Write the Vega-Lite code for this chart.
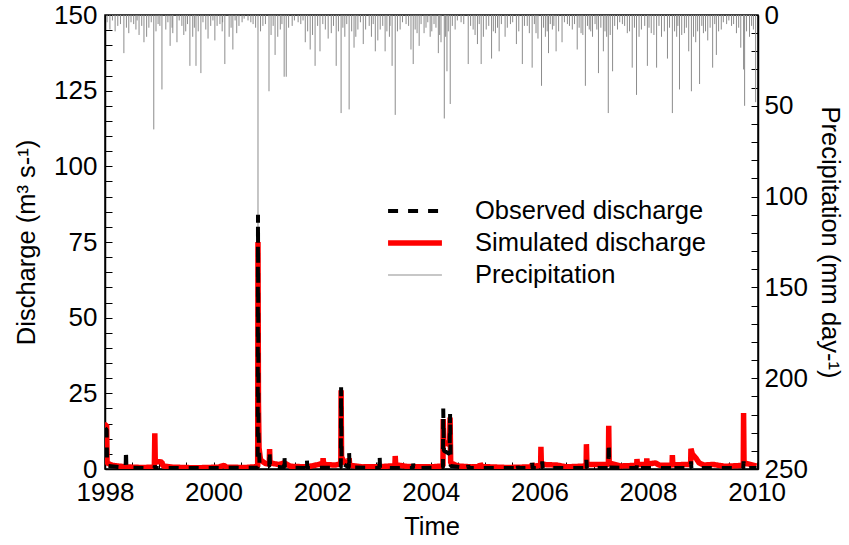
{
  "$schema": "https://vega.github.io/schema/vega-lite/v6.json",
  "width": 653,
  "height": 454,
  "autosize": {"type": "none"},
  "padding": {"left": 105, "top": 15, "right": 91, "bottom": 76},
  "background": "white",
  "config": {
    "view": {"stroke": "black", "strokeWidth": 1.5},
    "font": "Liberation Sans",
    "axis": {
      "labelFont": "Liberation Sans",
      "titleFont": "Liberation Sans",
      "labelFontSize": 26,
      "titleFontSize": 25.5,
      "titleFontWeight": "normal",
      "labelColor": "black",
      "titleColor": "black",
      "domainColor": "black",
      "domainWidth": 1.5,
      "tickColor": "black",
      "tickWidth": 1,
      "grid": false,
      "labelOverlap": false,
      "labelFlush": false
    },
    "legend": {
      "orient": "none",
      "legendX": 280,
      "legendY": 184,
      "title": null,
      "symbolType": "stroke",
      "symbolSize": 2900,
      "clipHeight": 24,
      "rowPadding": 6,
      "labelOffset": 30,
      "labelFont": "Liberation Sans",
      "labelFontSize": 25.5,
      "labelColor": "black",
      "padding": 0,
      "labelLimit": 400
    }
  },
  "datasets": {
    "precip": [
      {"date": "1998-01-15", "series": "Precipitation", "p": 4},
      {"date": "1998-02-03", "series": "Precipitation", "p": 8},
      {"date": "1998-02-20", "series": "Precipitation", "p": 3},
      {"date": "1998-03-10", "series": "Precipitation", "p": 9},
      {"date": "1998-03-28", "series": "Precipitation", "p": 6},
      {"date": "1998-04-15", "series": "Precipitation", "p": 5},
      {"date": "1998-05-08", "series": "Precipitation", "p": 21},
      {"date": "1998-05-25", "series": "Precipitation", "p": 7},
      {"date": "1998-06-10", "series": "Precipitation", "p": 10},
      {"date": "1998-06-25", "series": "Precipitation", "p": 4},
      {"date": "1998-07-13", "series": "Precipitation", "p": 5},
      {"date": "1998-07-28", "series": "Precipitation", "p": 8},
      {"date": "1998-08-05", "series": "Precipitation", "p": 3},
      {"date": "1998-08-18", "series": "Precipitation", "p": 11},
      {"date": "1998-09-05", "series": "Precipitation", "p": 6},
      {"date": "1998-09-20", "series": "Precipitation", "p": 15},
      {"date": "1998-10-08", "series": "Precipitation", "p": 12},
      {"date": "1998-10-23", "series": "Precipitation", "p": 7},
      {"date": "1998-11-08", "series": "Precipitation", "p": 4},
      {"date": "1998-11-25", "series": "Precipitation", "p": 63},
      {"date": "1998-12-10", "series": "Precipitation", "p": 9},
      {"date": "1998-12-24", "series": "Precipitation", "p": 5},
      {"date": "1999-01-05", "series": "Precipitation", "p": 6},
      {"date": "1999-01-19", "series": "Precipitation", "p": 41},
      {"date": "1999-02-14", "series": "Precipitation", "p": 8},
      {"date": "1999-02-28", "series": "Precipitation", "p": 4},
      {"date": "1999-03-15", "series": "Precipitation", "p": 17},
      {"date": "1999-03-28", "series": "Precipitation", "p": 7},
      {"date": "1999-04-02", "series": "Precipitation", "p": 10},
      {"date": "1999-04-30", "series": "Precipitation", "p": 15},
      {"date": "1999-05-15", "series": "Precipitation", "p": 3},
      {"date": "1999-06-02", "series": "Precipitation", "p": 6},
      {"date": "1999-06-15", "series": "Precipitation", "p": 11},
      {"date": "1999-06-28", "series": "Precipitation", "p": 9},
      {"date": "1999-07-10", "series": "Precipitation", "p": 5},
      {"date": "1999-07-26", "series": "Precipitation", "p": 28},
      {"date": "1999-08-14", "series": "Precipitation", "p": 12},
      {"date": "1999-08-25", "series": "Precipitation", "p": 7},
      {"date": "1999-09-05", "series": "Precipitation", "p": 28},
      {"date": "1999-09-20", "series": "Precipitation", "p": 9},
      {"date": "1999-10-08", "series": "Precipitation", "p": 32},
      {"date": "1999-10-22", "series": "Precipitation", "p": 4},
      {"date": "1999-11-10", "series": "Precipitation", "p": 8},
      {"date": "1999-11-25", "series": "Precipitation", "p": 13},
      {"date": "1999-12-13", "series": "Precipitation", "p": 6},
      {"date": "1999-12-28", "series": "Precipitation", "p": 3},
      {"date": "2000-01-10", "series": "Precipitation", "p": 14},
      {"date": "2000-01-25", "series": "Precipitation", "p": 6},
      {"date": "2000-02-13", "series": "Precipitation", "p": 5},
      {"date": "2000-02-28", "series": "Precipitation", "p": 9},
      {"date": "2000-03-02", "series": "Precipitation", "p": 4},
      {"date": "2000-03-17", "series": "Precipitation", "p": 27},
      {"date": "2000-04-15", "series": "Precipitation", "p": 12},
      {"date": "2000-04-28", "series": "Precipitation", "p": 7},
      {"date": "2000-05-10", "series": "Precipitation", "p": 19},
      {"date": "2000-05-25", "series": "Precipitation", "p": 3},
      {"date": "2000-06-05", "series": "Precipitation", "p": 10},
      {"date": "2000-06-20", "series": "Precipitation", "p": 6},
      {"date": "2000-07-11", "series": "Precipitation", "p": 4},
      {"date": "2000-07-25", "series": "Precipitation", "p": 2},
      {"date": "2000-08-20", "series": "Precipitation", "p": 3},
      {"date": "2000-09-08", "series": "Precipitation", "p": 4},
      {"date": "2000-09-23", "series": "Precipitation", "p": 5},
      {"date": "2000-10-10", "series": "Precipitation", "p": 7},
      {"date": "2000-10-26", "series": "Precipitation", "p": 118},
      {"date": "2000-11-12", "series": "Precipitation", "p": 9},
      {"date": "2000-11-28", "series": "Precipitation", "p": 6},
      {"date": "2000-12-15", "series": "Precipitation", "p": 5},
      {"date": "2001-01-08", "series": "Precipitation", "p": 42},
      {"date": "2001-01-22", "series": "Precipitation", "p": 11},
      {"date": "2001-02-05", "series": "Precipitation", "p": 6},
      {"date": "2001-02-18", "series": "Precipitation", "p": 22},
      {"date": "2001-03-08", "series": "Precipitation", "p": 12},
      {"date": "2001-03-25", "series": "Precipitation", "p": 8},
      {"date": "2001-04-05", "series": "Precipitation", "p": 5},
      {"date": "2001-04-20", "series": "Precipitation", "p": 34},
      {"date": "2001-05-04", "series": "Precipitation", "p": 34},
      {"date": "2001-05-20", "series": "Precipitation", "p": 7},
      {"date": "2001-06-13", "series": "Precipitation", "p": 6},
      {"date": "2001-06-28", "series": "Precipitation", "p": 3},
      {"date": "2001-07-23", "series": "Precipitation", "p": 4},
      {"date": "2001-08-10", "series": "Precipitation", "p": 5},
      {"date": "2001-08-25", "series": "Precipitation", "p": 3},
      {"date": "2001-09-09", "series": "Precipitation", "p": 15},
      {"date": "2001-09-25", "series": "Precipitation", "p": 9},
      {"date": "2001-10-12", "series": "Precipitation", "p": 19},
      {"date": "2001-10-28", "series": "Precipitation", "p": 11},
      {"date": "2001-11-14", "series": "Precipitation", "p": 28},
      {"date": "2001-12-01", "series": "Precipitation", "p": 6},
      {"date": "2001-12-17", "series": "Precipitation", "p": 20},
      {"date": "2002-01-05", "series": "Precipitation", "p": 5},
      {"date": "2002-01-22", "series": "Precipitation", "p": 8},
      {"date": "2002-02-10", "series": "Precipitation", "p": 13},
      {"date": "2002-03-03", "series": "Precipitation", "p": 10},
      {"date": "2002-03-18", "series": "Precipitation", "p": 6},
      {"date": "2002-04-05", "series": "Precipitation", "p": 28},
      {"date": "2002-04-20", "series": "Precipitation", "p": 9},
      {"date": "2002-05-08", "series": "Precipitation", "p": 54},
      {"date": "2002-05-20", "series": "Precipitation", "p": 7},
      {"date": "2002-06-02", "series": "Precipitation", "p": 12},
      {"date": "2002-06-15", "series": "Precipitation", "p": 5},
      {"date": "2002-07-01", "series": "Precipitation", "p": 52},
      {"date": "2002-07-18", "series": "Precipitation", "p": 9},
      {"date": "2002-08-03", "series": "Precipitation", "p": 18},
      {"date": "2002-08-15", "series": "Precipitation", "p": 12},
      {"date": "2002-08-29", "series": "Precipitation", "p": 8},
      {"date": "2002-09-15", "series": "Precipitation", "p": 4},
      {"date": "2002-10-04", "series": "Precipitation", "p": 16},
      {"date": "2002-10-20", "series": "Precipitation", "p": 8},
      {"date": "2002-11-13", "series": "Precipitation", "p": 6},
      {"date": "2002-11-28", "series": "Precipitation", "p": 12},
      {"date": "2002-12-10", "series": "Precipitation", "p": 5},
      {"date": "2002-12-24", "series": "Precipitation", "p": 20},
      {"date": "2003-01-10", "series": "Precipitation", "p": 14},
      {"date": "2003-01-26", "series": "Precipitation", "p": 8},
      {"date": "2003-02-12", "series": "Precipitation", "p": 6},
      {"date": "2003-02-28", "series": "Precipitation", "p": 20},
      {"date": "2003-03-12", "series": "Precipitation", "p": 9},
      {"date": "2003-03-29", "series": "Precipitation", "p": 12},
      {"date": "2003-04-02", "series": "Precipitation", "p": 6},
      {"date": "2003-04-16", "series": "Precipitation", "p": 28},
      {"date": "2003-05-07", "series": "Precipitation", "p": 55},
      {"date": "2003-05-22", "series": "Precipitation", "p": 9},
      {"date": "2003-06-09", "series": "Precipitation", "p": 8},
      {"date": "2003-06-25", "series": "Precipitation", "p": 4},
      {"date": "2003-07-19", "series": "Precipitation", "p": 5},
      {"date": "2003-08-05", "series": "Precipitation", "p": 6},
      {"date": "2003-08-21", "series": "Precipitation", "p": 19},
      {"date": "2003-09-05", "series": "Precipitation", "p": 27},
      {"date": "2003-09-18", "series": "Precipitation", "p": 8},
      {"date": "2003-10-01", "series": "Precipitation", "p": 10},
      {"date": "2003-10-15", "series": "Precipitation", "p": 17},
      {"date": "2003-10-28", "series": "Precipitation", "p": 5},
      {"date": "2003-11-17", "series": "Precipitation", "p": 10},
      {"date": "2003-11-30", "series": "Precipitation", "p": 7},
      {"date": "2003-12-12", "series": "Precipitation", "p": 4},
      {"date": "2003-12-28", "series": "Precipitation", "p": 12},
      {"date": "2004-01-08", "series": "Precipitation", "p": 9},
      {"date": "2004-01-23", "series": "Precipitation", "p": 5},
      {"date": "2004-02-05", "series": "Precipitation", "p": 7},
      {"date": "2004-02-21", "series": "Precipitation", "p": 21},
      {"date": "2004-03-01", "series": "Precipitation", "p": 11},
      {"date": "2004-03-10", "series": "Precipitation", "p": 15},
      {"date": "2004-04-01", "series": "Precipitation", "p": 57},
      {"date": "2004-04-10", "series": "Precipitation", "p": 12},
      {"date": "2004-04-19", "series": "Precipitation", "p": 31},
      {"date": "2004-04-28", "series": "Precipitation", "p": 9},
      {"date": "2004-05-11", "series": "Precipitation", "p": 49},
      {"date": "2004-05-25", "series": "Precipitation", "p": 6},
      {"date": "2004-06-13", "series": "Precipitation", "p": 8},
      {"date": "2004-06-28", "series": "Precipitation", "p": 3},
      {"date": "2004-07-23", "series": "Precipitation", "p": 4},
      {"date": "2004-08-10", "series": "Precipitation", "p": 5},
      {"date": "2004-09-09", "series": "Precipitation", "p": 27},
      {"date": "2004-09-25", "series": "Precipitation", "p": 6},
      {"date": "2004-10-12", "series": "Precipitation", "p": 8},
      {"date": "2004-10-25", "series": "Precipitation", "p": 11},
      {"date": "2004-11-10", "series": "Precipitation", "p": 16},
      {"date": "2004-11-22", "series": "Precipitation", "p": 5},
      {"date": "2004-12-05", "series": "Precipitation", "p": 27},
      {"date": "2004-12-20", "series": "Precipitation", "p": 12},
      {"date": "2005-01-08", "series": "Precipitation", "p": 8},
      {"date": "2005-01-25", "series": "Precipitation", "p": 6},
      {"date": "2005-02-13", "series": "Precipitation", "p": 24},
      {"date": "2005-02-25", "series": "Precipitation", "p": 9},
      {"date": "2005-03-11", "series": "Precipitation", "p": 10},
      {"date": "2005-03-25", "series": "Precipitation", "p": 7},
      {"date": "2005-04-05", "series": "Precipitation", "p": 20},
      {"date": "2005-04-20", "series": "Precipitation", "p": 5},
      {"date": "2005-05-15", "series": "Precipitation", "p": 12},
      {"date": "2005-05-30", "series": "Precipitation", "p": 7},
      {"date": "2005-06-20", "series": "Precipitation", "p": 5},
      {"date": "2005-07-05", "series": "Precipitation", "p": 4},
      {"date": "2005-07-30", "series": "Precipitation", "p": 16},
      {"date": "2005-08-15", "series": "Precipitation", "p": 9},
      {"date": "2005-09-08", "series": "Precipitation", "p": 27},
      {"date": "2005-09-22", "series": "Precipitation", "p": 6},
      {"date": "2005-10-11", "series": "Precipitation", "p": 6},
      {"date": "2005-10-25", "series": "Precipitation", "p": 10},
      {"date": "2005-11-13", "series": "Precipitation", "p": 29},
      {"date": "2005-11-28", "series": "Precipitation", "p": 5},
      {"date": "2005-12-09", "series": "Precipitation", "p": 10},
      {"date": "2005-12-22", "series": "Precipitation", "p": 13},
      {"date": "2006-01-15", "series": "Precipitation", "p": 39},
      {"date": "2006-01-28", "series": "Precipitation", "p": 7},
      {"date": "2006-02-10", "series": "Precipitation", "p": 12},
      {"date": "2006-02-22", "series": "Precipitation", "p": 9},
      {"date": "2006-03-03", "series": "Precipitation", "p": 21},
      {"date": "2006-03-15", "series": "Precipitation", "p": 5},
      {"date": "2006-03-29", "series": "Precipitation", "p": 8},
      {"date": "2006-04-08", "series": "Precipitation", "p": 6},
      {"date": "2006-04-23", "series": "Precipitation", "p": 20},
      {"date": "2006-05-10", "series": "Precipitation", "p": 9},
      {"date": "2006-06-02", "series": "Precipitation", "p": 15},
      {"date": "2006-06-18", "series": "Precipitation", "p": 4},
      {"date": "2006-07-08", "series": "Precipitation", "p": 5},
      {"date": "2006-07-22", "series": "Precipitation", "p": 6},
      {"date": "2006-08-10", "series": "Precipitation", "p": 8},
      {"date": "2006-08-25", "series": "Precipitation", "p": 5},
      {"date": "2006-09-12", "series": "Precipitation", "p": 19},
      {"date": "2006-09-25", "series": "Precipitation", "p": 7},
      {"date": "2006-10-08", "series": "Precipitation", "p": 10},
      {"date": "2006-10-20", "series": "Precipitation", "p": 11},
      {"date": "2006-11-06", "series": "Precipitation", "p": 39},
      {"date": "2006-11-20", "series": "Precipitation", "p": 6},
      {"date": "2006-12-02", "series": "Precipitation", "p": 8},
      {"date": "2006-12-12", "series": "Precipitation", "p": 9},
      {"date": "2006-12-24", "series": "Precipitation", "p": 12},
      {"date": "2007-01-10", "series": "Precipitation", "p": 5},
      {"date": "2007-01-22", "series": "Precipitation", "p": 8},
      {"date": "2007-02-02", "series": "Precipitation", "p": 32},
      {"date": "2007-02-18", "series": "Precipitation", "p": 7},
      {"date": "2007-03-07", "series": "Precipitation", "p": 20},
      {"date": "2007-03-18", "series": "Precipitation", "p": 9},
      {"date": "2007-03-29", "series": "Precipitation", "p": 12},
      {"date": "2007-04-09", "series": "Precipitation", "p": 54},
      {"date": "2007-04-22", "series": "Precipitation", "p": 11},
      {"date": "2007-05-08", "series": "Precipitation", "p": 31},
      {"date": "2007-05-22", "series": "Precipitation", "p": 6},
      {"date": "2007-06-10", "series": "Precipitation", "p": 8},
      {"date": "2007-06-25", "series": "Precipitation", "p": 4},
      {"date": "2007-07-13", "series": "Precipitation", "p": 5},
      {"date": "2007-07-28", "series": "Precipitation", "p": 6},
      {"date": "2007-08-15", "series": "Precipitation", "p": 10},
      {"date": "2007-08-30", "series": "Precipitation", "p": 9},
      {"date": "2007-09-17", "series": "Precipitation", "p": 29},
      {"date": "2007-10-02", "series": "Precipitation", "p": 7},
      {"date": "2007-10-16", "series": "Precipitation", "p": 44},
      {"date": "2007-11-02", "series": "Precipitation", "p": 12},
      {"date": "2007-11-18", "series": "Precipitation", "p": 8},
      {"date": "2007-12-10", "series": "Precipitation", "p": 6},
      {"date": "2007-12-28", "series": "Precipitation", "p": 28},
      {"date": "2008-01-08", "series": "Precipitation", "p": 7},
      {"date": "2008-01-23", "series": "Precipitation", "p": 10},
      {"date": "2008-02-10", "series": "Precipitation", "p": 11},
      {"date": "2008-02-28", "series": "Precipitation", "p": 29},
      {"date": "2008-03-15", "series": "Precipitation", "p": 6},
      {"date": "2008-04-01", "series": "Precipitation", "p": 12},
      {"date": "2008-04-20", "series": "Precipitation", "p": 9},
      {"date": "2008-05-11", "series": "Precipitation", "p": 24},
      {"date": "2008-05-25", "series": "Precipitation", "p": 7},
      {"date": "2008-06-13", "series": "Precipitation", "p": 54},
      {"date": "2008-06-28", "series": "Precipitation", "p": 9},
      {"date": "2008-07-12", "series": "Precipitation", "p": 12},
      {"date": "2008-07-20", "series": "Precipitation", "p": 6},
      {"date": "2008-07-31", "series": "Precipitation", "p": 41},
      {"date": "2008-08-15", "series": "Precipitation", "p": 11},
      {"date": "2008-09-02", "series": "Precipitation", "p": 10},
      {"date": "2008-09-15", "series": "Precipitation", "p": 7},
      {"date": "2008-10-01", "series": "Precipitation", "p": 20},
      {"date": "2008-10-19", "series": "Precipitation", "p": 42},
      {"date": "2008-11-02", "series": "Precipitation", "p": 12},
      {"date": "2008-11-17", "series": "Precipitation", "p": 15},
      {"date": "2008-11-30", "series": "Precipitation", "p": 9},
      {"date": "2008-12-13", "series": "Precipitation", "p": 38},
      {"date": "2008-12-28", "series": "Precipitation", "p": 6},
      {"date": "2009-01-08", "series": "Precipitation", "p": 10},
      {"date": "2009-01-22", "series": "Precipitation", "p": 9},
      {"date": "2009-02-06", "series": "Precipitation", "p": 14},
      {"date": "2009-02-22", "series": "Precipitation", "p": 7},
      {"date": "2009-03-11", "series": "Precipitation", "p": 29},
      {"date": "2009-03-25", "series": "Precipitation", "p": 5},
      {"date": "2009-04-05", "series": "Precipitation", "p": 22},
      {"date": "2009-04-20", "series": "Precipitation", "p": 9},
      {"date": "2009-05-08", "series": "Precipitation", "p": 8},
      {"date": "2009-05-22", "series": "Precipitation", "p": 4},
      {"date": "2009-06-13", "series": "Precipitation", "p": 5},
      {"date": "2009-06-28", "series": "Precipitation", "p": 3},
      {"date": "2009-07-16", "series": "Precipitation", "p": 6},
      {"date": "2009-07-30", "series": "Precipitation", "p": 5},
      {"date": "2009-08-18", "series": "Precipitation", "p": 10},
      {"date": "2009-09-02", "series": "Precipitation", "p": 7},
      {"date": "2009-09-16", "series": "Precipitation", "p": 18},
      {"date": "2009-10-05", "series": "Precipitation", "p": 30},
      {"date": "2009-10-12", "series": "Precipitation", "p": 50},
      {"date": "2009-10-25", "series": "Precipitation", "p": 9},
      {"date": "2009-11-14", "series": "Precipitation", "p": 12},
      {"date": "2009-11-28", "series": "Precipitation", "p": 6},
      {"date": "2009-12-10", "series": "Precipitation", "p": 8},
      {"date": "2009-12-25", "series": "Precipitation", "p": 48}
    ],
    "discharge": [
      {"date": "1998-01-01", "series": "Simulated discharge", "q": 14.5},
      {"date": "1998-01-12", "series": "Simulated discharge", "q": 14.5},
      {"date": "1998-01-15", "series": "Simulated discharge", "q": 2},
      {"date": "1998-02-20", "series": "Simulated discharge", "q": 1.2},
      {"date": "1998-05-20", "series": "Simulated discharge", "q": 0.7},
      {"date": "1998-09-01", "series": "Simulated discharge", "q": 0.5},
      {"date": "1998-11-29", "series": "Simulated discharge", "q": 0.6},
      {"date": "1998-12-02", "series": "Simulated discharge", "q": 11.8},
      {"date": "1998-12-05", "series": "Simulated discharge", "q": 2.5},
      {"date": "1999-01-19", "series": "Simulated discharge", "q": 2.3},
      {"date": "1999-01-25", "series": "Simulated discharge", "q": 1},
      {"date": "1999-04-01", "series": "Simulated discharge", "q": 0.6},
      {"date": "1999-09-01", "series": "Simulated discharge", "q": 0.4},
      {"date": "2000-02-01", "series": "Simulated discharge", "q": 0.6},
      {"date": "2000-03-12", "series": "Simulated discharge", "q": 1.2},
      {"date": "2000-03-28", "series": "Simulated discharge", "q": 0.6},
      {"date": "2000-08-01", "series": "Simulated discharge", "q": 0.5},
      {"date": "2000-10-24", "series": "Simulated discharge", "q": 0.8},
      {"date": "2000-10-26", "series": "Simulated discharge", "q": 75},
      {"date": "2000-10-29", "series": "Simulated discharge", "q": 22},
      {"date": "2000-11-02", "series": "Simulated discharge", "q": 7},
      {"date": "2000-11-12", "series": "Simulated discharge", "q": 3},
      {"date": "2000-12-15", "series": "Simulated discharge", "q": 1.8},
      {"date": "2001-01-10", "series": "Simulated discharge", "q": 1.6},
      {"date": "2001-01-12", "series": "Simulated discharge", "q": 6.6},
      {"date": "2001-01-15", "series": "Simulated discharge", "q": 2},
      {"date": "2001-03-15", "series": "Simulated discharge", "q": 1.5},
      {"date": "2001-04-20", "series": "Simulated discharge", "q": 2},
      {"date": "2001-06-01", "series": "Simulated discharge", "q": 0.9},
      {"date": "2001-09-20", "series": "Simulated discharge", "q": 0.7},
      {"date": "2001-12-10", "series": "Simulated discharge", "q": 1.5},
      {"date": "2002-01-05", "series": "Simulated discharge", "q": 2},
      {"date": "2002-01-07", "series": "Simulated discharge", "q": 3.6},
      {"date": "2002-01-10", "series": "Simulated discharge", "q": 1.5},
      {"date": "2002-04-01", "series": "Simulated discharge", "q": 1.3},
      {"date": "2002-05-06", "series": "Simulated discharge", "q": 1.8},
      {"date": "2002-05-08", "series": "Simulated discharge", "q": 26},
      {"date": "2002-05-11", "series": "Simulated discharge", "q": 4},
      {"date": "2002-06-01", "series": "Simulated discharge", "q": 2},
      {"date": "2002-06-29", "series": "Simulated discharge", "q": 2},
      {"date": "2002-07-01", "series": "Simulated discharge", "q": 3.6},
      {"date": "2002-07-05", "series": "Simulated discharge", "q": 1.2},
      {"date": "2002-10-01", "series": "Simulated discharge", "q": 0.7},
      {"date": "2003-02-01", "series": "Simulated discharge", "q": 0.8},
      {"date": "2003-05-05", "series": "Simulated discharge", "q": 1.1},
      {"date": "2003-05-07", "series": "Simulated discharge", "q": 4.3},
      {"date": "2003-05-10", "series": "Simulated discharge", "q": 1.4},
      {"date": "2003-08-01", "series": "Simulated discharge", "q": 0.8},
      {"date": "2004-01-01", "series": "Simulated discharge", "q": 0.7},
      {"date": "2004-03-23", "series": "Simulated discharge", "q": 1},
      {"date": "2004-03-25", "series": "Simulated discharge", "q": 16.5},
      {"date": "2004-03-29", "series": "Simulated discharge", "q": 9},
      {"date": "2004-05-07", "series": "Simulated discharge", "q": 8},
      {"date": "2004-05-10", "series": "Simulated discharge", "q": 17},
      {"date": "2004-05-14", "series": "Simulated discharge", "q": 2},
      {"date": "2004-07-01", "series": "Simulated discharge", "q": 1},
      {"date": "2004-10-01", "series": "Simulated discharge", "q": 0.7},
      {"date": "2004-11-26", "series": "Simulated discharge", "q": 0.8},
      {"date": "2004-11-28", "series": "Simulated discharge", "q": 1.8},
      {"date": "2004-12-10", "series": "Simulated discharge", "q": 0.8},
      {"date": "2005-06-01", "series": "Simulated discharge", "q": 0.5},
      {"date": "2005-11-10", "series": "Simulated discharge", "q": 0.7},
      {"date": "2005-11-13", "series": "Simulated discharge", "q": 1.8},
      {"date": "2005-11-20", "series": "Simulated discharge", "q": 0.9},
      {"date": "2006-01-09", "series": "Simulated discharge", "q": 1.2},
      {"date": "2006-01-11", "series": "Simulated discharge", "q": 7.3},
      {"date": "2006-01-14", "series": "Simulated discharge", "q": 1.5},
      {"date": "2006-04-28", "series": "Simulated discharge", "q": 1.3},
      {"date": "2006-07-01", "series": "Simulated discharge", "q": 0.7},
      {"date": "2006-11-11", "series": "Simulated discharge", "q": 1},
      {"date": "2006-11-13", "series": "Simulated discharge", "q": 8.2},
      {"date": "2006-11-16", "series": "Simulated discharge", "q": 1.5},
      {"date": "2007-02-12", "series": "Simulated discharge", "q": 1.5},
      {"date": "2007-04-10", "series": "Simulated discharge", "q": 1.5},
      {"date": "2007-04-12", "series": "Simulated discharge", "q": 14.3},
      {"date": "2007-04-15", "series": "Simulated discharge", "q": 2},
      {"date": "2007-07-01", "series": "Simulated discharge", "q": 1},
      {"date": "2007-10-17", "series": "Simulated discharge", "q": 1.2},
      {"date": "2007-10-19", "series": "Simulated discharge", "q": 3.3},
      {"date": "2007-10-22", "series": "Simulated discharge", "q": 1.5},
      {"date": "2007-12-22", "series": "Simulated discharge", "q": 1.5},
      {"date": "2007-12-24", "series": "Simulated discharge", "q": 3.5},
      {"date": "2007-12-27", "series": "Simulated discharge", "q": 1.6},
      {"date": "2008-02-20", "series": "Simulated discharge", "q": 2},
      {"date": "2008-03-20", "series": "Simulated discharge", "q": 1.2},
      {"date": "2008-06-11", "series": "Simulated discharge", "q": 1.3},
      {"date": "2008-06-13", "series": "Simulated discharge", "q": 4.6},
      {"date": "2008-06-16", "series": "Simulated discharge", "q": 1.4},
      {"date": "2008-10-14", "series": "Simulated discharge", "q": 1.5},
      {"date": "2008-10-16", "series": "Simulated discharge", "q": 6.7},
      {"date": "2008-10-25", "series": "Simulated discharge", "q": 5},
      {"date": "2008-11-20", "series": "Simulated discharge", "q": 3.5},
      {"date": "2008-12-10", "series": "Simulated discharge", "q": 2},
      {"date": "2009-01-10", "series": "Simulated discharge", "q": 1.3},
      {"date": "2009-03-15", "series": "Simulated discharge", "q": 1.5},
      {"date": "2009-06-01", "series": "Simulated discharge", "q": 0.9},
      {"date": "2009-10-03", "series": "Simulated discharge", "q": 1.2},
      {"date": "2009-10-05", "series": "Simulated discharge", "q": 18.5},
      {"date": "2009-10-08", "series": "Simulated discharge", "q": 2},
      {"date": "2009-12-31", "series": "Simulated discharge", "q": 1},
      {"date": "1998-01-01", "series": "Observed discharge", "q": 13.5},
      {"date": "1998-01-12", "series": "Observed discharge", "q": 13},
      {"date": "1998-01-15", "series": "Observed discharge", "q": 1},
      {"date": "1998-05-20", "series": "Observed discharge", "q": 0.4},
      {"date": "1998-05-22", "series": "Observed discharge", "q": 6.3},
      {"date": "1998-05-25", "series": "Observed discharge", "q": 0.4},
      {"date": "1998-11-30", "series": "Observed discharge", "q": 0.3},
      {"date": "1998-12-02", "series": "Observed discharge", "q": 1.2},
      {"date": "1998-12-05", "series": "Observed discharge", "q": 0.3},
      {"date": "2000-10-24", "series": "Observed discharge", "q": 0.4},
      {"date": "2000-10-26", "series": "Observed discharge", "q": 84},
      {"date": "2000-10-29", "series": "Observed discharge", "q": 12},
      {"date": "2000-11-05", "series": "Observed discharge", "q": 2},
      {"date": "2001-01-10", "series": "Observed discharge", "q": 0.8},
      {"date": "2001-01-12", "series": "Observed discharge", "q": 6},
      {"date": "2001-01-15", "series": "Observed discharge", "q": 0.8},
      {"date": "2001-04-20", "series": "Observed discharge", "q": 0.5},
      {"date": "2001-04-22", "series": "Observed discharge", "q": 4.3},
      {"date": "2001-04-25", "series": "Observed discharge", "q": 0.5},
      {"date": "2001-09-18", "series": "Observed discharge", "q": 0.3},
      {"date": "2001-09-20", "series": "Observed discharge", "q": 3},
      {"date": "2001-09-23", "series": "Observed discharge", "q": 0.3},
      {"date": "2002-05-06", "series": "Observed discharge", "q": 0.5},
      {"date": "2002-05-08", "series": "Observed discharge", "q": 27},
      {"date": "2002-05-11", "series": "Observed discharge", "q": 2},
      {"date": "2002-06-29", "series": "Observed discharge", "q": 0.5},
      {"date": "2002-07-01", "series": "Observed discharge", "q": 5.3},
      {"date": "2002-07-04", "series": "Observed discharge", "q": 0.5},
      {"date": "2003-01-20", "series": "Observed discharge", "q": 0.3},
      {"date": "2003-01-22", "series": "Observed discharge", "q": 4.6},
      {"date": "2003-01-25", "series": "Observed discharge", "q": 0.3},
      {"date": "2003-09-03", "series": "Observed discharge", "q": 0.3},
      {"date": "2003-09-05", "series": "Observed discharge", "q": 1.8},
      {"date": "2003-09-08", "series": "Observed discharge", "q": 0.3},
      {"date": "2004-03-23", "series": "Observed discharge", "q": 0.5},
      {"date": "2004-03-25", "series": "Observed discharge", "q": 20},
      {"date": "2004-03-29", "series": "Observed discharge", "q": 6},
      {"date": "2004-05-07", "series": "Observed discharge", "q": 5},
      {"date": "2004-05-10", "series": "Observed discharge", "q": 18.2},
      {"date": "2004-05-14", "series": "Observed discharge", "q": 1},
      {"date": "2004-09-07", "series": "Observed discharge", "q": 0.3},
      {"date": "2004-09-09", "series": "Observed discharge", "q": 1.3},
      {"date": "2004-09-12", "series": "Observed discharge", "q": 0.3},
      {"date": "2005-08-04", "series": "Observed discharge", "q": 0.3},
      {"date": "2005-08-06", "series": "Observed discharge", "q": 1.8},
      {"date": "2005-08-09", "series": "Observed discharge", "q": 0.3},
      {"date": "2005-11-11", "series": "Observed discharge", "q": 0.3},
      {"date": "2005-11-13", "series": "Observed discharge", "q": 2},
      {"date": "2005-11-16", "series": "Observed discharge", "q": 0.3},
      {"date": "2006-01-18", "series": "Observed discharge", "q": 0.3},
      {"date": "2006-01-20", "series": "Observed discharge", "q": 2.5},
      {"date": "2006-01-23", "series": "Observed discharge", "q": 0.3},
      {"date": "2006-11-11", "series": "Observed discharge", "q": 0.3},
      {"date": "2006-11-13", "series": "Observed discharge", "q": 3},
      {"date": "2006-11-16", "series": "Observed discharge", "q": 0.3},
      {"date": "2007-04-10", "series": "Observed discharge", "q": 0.3},
      {"date": "2007-04-12", "series": "Observed discharge", "q": 8.5},
      {"date": "2007-04-15", "series": "Observed discharge", "q": 0.5},
      {"date": "2007-10-17", "series": "Observed discharge", "q": 0.3},
      {"date": "2007-10-19", "series": "Observed discharge", "q": 1.8},
      {"date": "2007-10-22", "series": "Observed discharge", "q": 0.3},
      {"date": "2008-06-11", "series": "Observed discharge", "q": 0.3},
      {"date": "2008-06-13", "series": "Observed discharge", "q": 1.5},
      {"date": "2008-06-16", "series": "Observed discharge", "q": 0.3},
      {"date": "2008-10-14", "series": "Observed discharge", "q": 0.3},
      {"date": "2008-10-16", "series": "Observed discharge", "q": 2.5},
      {"date": "2008-10-19", "series": "Observed discharge", "q": 0.3},
      {"date": "2009-10-03", "series": "Observed discharge", "q": 0.3},
      {"date": "2009-10-05", "series": "Observed discharge", "q": 2.5},
      {"date": "2009-10-08", "series": "Observed discharge", "q": 0.3},
      {"date": "2009-12-31", "series": "Observed discharge", "q": 0.3}
    ]
  },
  "layer": [
    {
      "data": {"name": "precip"},
      "mark": {"type": "rule"},
      "encoding": {
        "x": {
          "field": "date",
          "type": "temporal",
          "scale": {"type": "utc", "domain": [{"year": 1998, "month": 1, "date": 1, "utc": true}, {"year": 2010, "month": 1, "date": 10, "utc": true}], "nice": false},
          "axis": {
            "title": "Time",
            "tickCount": {"interval": "month", "step": 6},
            "labelExpr": "utcmonth(datum.value) === 0 && utcyear(datum.value) % 2 === 0 ? utcFormat(datum.value, '%Y') : ''",
            "tickSize": -7,
            "labelPadding": 17,
            "titlePadding": 9,
            "domain": true
          }
        },
        "y": {
          "field": "p",
          "type": "quantitative",
          "scale": {"domain": [0, 250], "reverse": true, "nice": false, "zero": true},
          "axis": {
            "orient": "right",
            "title": "Precipitation (mm day-¹)",
            "values": [0, 10, 20, 30, 40, 50, 60, 70, 80, 90, 100, 110, 120, 130, 140, 150, 160, 170, 180, 190, 200, 210, 220, 230, 240, 250],
            "labelExpr": "datum.value % 50 === 0 ? datum.label : ''",
            "tickSize": -7,
            "labelPadding": 13,
            "titlePadding": 9
          }
        },
        "y2": {"datum": 0},
        "color": {
          "field": "series",
          "type": "nominal",
          "scale": {"domain": ["Observed discharge", "Simulated discharge", "Precipitation"], "range": ["#000000", "#ff0000", "#8c8c8c"]}
        },
        "strokeWidth": {
          "field": "series",
          "type": "nominal",
          "scale": {"type": "ordinal", "domain": ["Observed discharge", "Simulated discharge", "Precipitation"], "range": [4, 5.5, 1]}
        }
      }
    },
    {
      "data": {"name": "discharge"},
      "encoding": {
        "x": {
          "field": "date",
          "type": "temporal",
          "scale": {"type": "utc", "domain": [{"year": 1998, "month": 1, "date": 1, "utc": true}, {"year": 2010, "month": 1, "date": 10, "utc": true}], "nice": false},
          "axis": {
            "title": "Time",
            "tickCount": {"interval": "month", "step": 6},
            "labelExpr": "utcmonth(datum.value) === 0 && utcyear(datum.value) % 2 === 0 ? utcFormat(datum.value, '%Y') : ''",
            "tickSize": -7,
            "labelPadding": 17,
            "titlePadding": 9,
            "domain": true
          }
        },
        "y": {
          "field": "q",
          "type": "quantitative",
          "scale": {"domain": [0, 150], "nice": false},
          "axis": {
            "orient": "left",
            "title": "Discharge (m³ s-¹)",
            "values": [0, 5, 10, 15, 20, 25, 30, 35, 40, 45, 50, 55, 60, 65, 70, 75, 80, 85, 90, 95, 100, 105, 110, 115, 120, 125, 130, 135, 140, 145, 150],
            "labelExpr": "datum.value % 25 === 0 ? datum.label : ''",
            "tickSize": -7,
            "labelPadding": 15,
            "titlePadding": 14
          }
        },
        "color": {
          "field": "series",
          "type": "nominal",
          "scale": {"domain": ["Observed discharge", "Simulated discharge", "Precipitation"], "range": ["#000000", "#ff0000", "#8c8c8c"]}
        },
        "strokeDash": {
          "field": "series",
          "type": "nominal",
          "scale": {"domain": ["Observed discharge", "Simulated discharge", "Precipitation"], "range": [[10, 10], [1, 0], [1, 0]]}
        },
        "strokeWidth": {
          "field": "series",
          "type": "nominal",
          "scale": {"type": "ordinal", "domain": ["Observed discharge", "Simulated discharge", "Precipitation"], "range": [4, 5.5, 1]}
        }
      },
      "layer": [
        {
          "transform": [{"filter": "datum.series === 'Simulated discharge'"}],
          "mark": {"type": "line", "strokeJoin": "bevel", "strokeCap": "butt", "clip": true}
        },
        {
          "transform": [{"filter": "datum.series === 'Observed discharge'"}],
          "mark": {"type": "line", "strokeJoin": "bevel", "strokeCap": "butt", "clip": true}
        }
      ]
    }
  ],
  "resolve": {"scale": {"y": "independent"}}
}
